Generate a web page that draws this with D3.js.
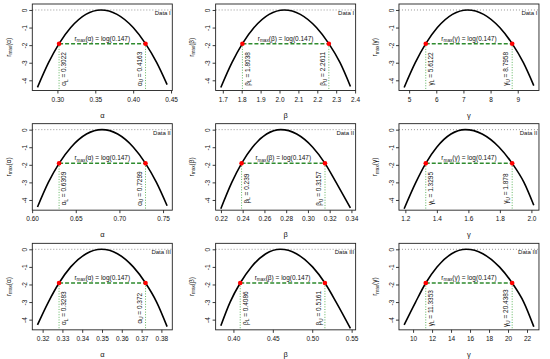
<!DOCTYPE html>
<html><head><meta charset="utf-8">
<script src="https://cdn.jsdelivr.net/npm/d3@7"></script>
<style>
body{margin:0;background:#fff}
svg{display:block}
text{font-family:"Liberation Sans",Arial,Helvetica,sans-serif;fill:#111}
</style>
</head><body>
<svg id="c" width="550" height="359"></svg>
<script>
// ---------- data ----------
const datasetNames = ["Data I", "Data II", "Data III"];
const paramSymbols = ["α", "β", "γ"];
const cutoffValue = -1.917;            // log(0.147)
const cutoffText = "log(0.147)";

const lowerValues = [0.3022, 1.8038, 5.6122, 0.6309, 0.239, 1.3295, 0.3283, 0.4086, 11.3353];
const lowerLabels = ["0.3022", "1.8038", "5.6122", "0.6309", "0.239", "1.3295", "0.3283", "0.4086", "11.3353"];
const upperValues = [0.4163, 2.2611, 8.7958, 0.7299, 0.3157, 1.878, 0.372, 0.5161, 20.4383];
const upperLabels = ["0.4163", "2.2611", "8.7958", "0.7299", "0.3157", "1.878", "0.372", "0.5161", "20.4383"];

const curveX = [
  [0.2737, 0.2883, 0.3022, 0.3176, 0.3375, 0.3575, 0.3787, 0.4000, 0.4163, 0.4311, 0.4448],
  [1.6895, 1.7483, 1.8038, 1.8653, 1.9451, 2.0250, 2.1102, 2.1955, 2.2611, 2.3204, 2.3754],
  [4.8163, 5.2262, 5.6122, 6.0397, 6.5949, 7.1500, 7.7441, 8.3383, 8.7958, 9.2089, 9.5917],
  [0.60615, 0.6186, 0.6309, 0.6446, 0.6623, 0.6800, 0.6980, 0.7160, 0.7299, 0.7424, 0.75465],
  [0.2199, 0.2300, 0.2390, 0.2490, 0.2620, 0.2750, 0.2897, 0.3044, 0.3157, 0.3259, 0.3391],
  [1.1924, 1.2666, 1.3295, 1.3991, 1.4896, 1.5800, 1.6876, 1.7952, 1.8780, 1.9528, 2.0151],
  [0.3174, 0.3229, 0.3283, 0.3342, 0.3420, 0.3497, 0.3578, 0.3658, 0.3720, 0.3776, 0.3829],
  [0.3840, 0.3958, 0.4086, 0.4228, 0.4411, 0.4595, 0.4799, 0.5004, 0.5161, 0.5303, 0.5485],
  [9.0596, 10.2649, 11.3353, 12.5209, 14.0604, 15.6000, 17.3466, 19.0933, 20.4383, 21.6527, 22.7140]
];
const curveY = [
  [-4.40, -3, -1.917, -1, -0.25, 0, -0.25, -1, -1.917, -3, -4.25],
  [-4.41, -3, -1.917, -1, -0.25, 0, -0.25, -1, -1.917, -3, -4.35],
  [-4.41, -3, -1.917, -1, -0.25, 0, -0.25, -1, -1.917, -3, -4.30],
  [-4.40, -3, -1.917, -1, -0.25, 0, -0.25, -1, -1.917, -3, -4.33],
  [-4.50, -3, -1.917, -1, -0.25, 0, -0.25, -1, -1.917, -3, -4.45],
  [-4.50, -3, -1.917, -1, -0.25, 0, -0.25, -1, -1.917, -3, -4.30],
  [-4.30, -3, -1.917, -1, -0.25, 0, -0.25, -1, -1.917, -3, -4.40],
  [-4.35, -3, -1.917, -1, -0.25, 0, -0.25, -1, -1.917, -3, -4.50],
  [-4.30, -3, -1.917, -1, -0.25, 0, -0.25, -1, -1.917, -3, -4.40]
];

const xTickLabels = [
  ["0.30", "0.35", "0.40", "0.45"],
  ["1.7", "1.8", "1.9", "2.0", "2.1", "2.2", "2.3", "2.4"],
  ["5", "6", "7", "8", "9"],
  ["0.60", "0.65", "0.70", "0.75"],
  ["0.22", "0.24", "0.26", "0.28", "0.30", "0.32", "0.34"],
  ["1.2", "1.4", "1.6", "1.8", "2.0"],
  ["0.32", "0.33", "0.34", "0.35", "0.36", "0.37", "0.38"],
  ["0.40", "0.45", "0.50", "0.55"],
  ["10", "12", "14", "16", "18", "20", "22"]
];
const yTickValues = [0, -1, -2, -3, -4];
const yTickLabels = ["0", "-1", "-2", "-3", "-4"];
const yDomain = [-4.58, 0.34];
const boundLabelY = -3.35;

// ---------- drawing ----------
const svg = d3.select("#c");
const PW = 550 / 3, PH = 359 / 3;
const box = {l: 32.3, r: 172.3, t: 4, b: 90.5};
const FS = 6.5;

function addMathText(sel, parts) {
  // parts: [text, isSub]
  let shifted = false;
  parts.forEach(([t, sub]) => {
    const ts = sel.append("tspan").text(t);
    if (sub && !shifted) { ts.attr("dy", 1.4).attr("font-size", FS * 0.72); shifted = true; }
    else if (!sub && shifted) { ts.attr("dy", -1.4); shifted = false; }
    else if (sub) ts.attr("font-size", FS * 0.72);
  });
}

for (let i = 0; i < 9; i++) {
  const row = Math.floor(i / 3), col = i % 3;
  const sym = paramSymbols[col];
  const g = svg.append("g").attr("transform", `translate(${col * PW},${row * PH})`);
  const xs = curveX[i], ys = curveY[i];
  const ext = d3.extent(xs), pad = (ext[1] - ext[0]) * 0.04;
  const x = d3.scaleLinear().domain([ext[0] - pad, ext[1] + pad]).range([box.l, box.r]);
  const y = d3.scaleLinear().domain(yDomain).range([box.b, box.t]);

  // dotted line at 0
  g.append("line").attr("x1", box.l).attr("x2", box.r).attr("y1", y(0)).attr("y2", y(0))
    .attr("stroke", "#8a8a8a").attr("stroke-width", 0.9).attr("stroke-dasharray", "1,2");

  // vertical dotted green lines
  [lowerValues[i], upperValues[i]].forEach(v => {
    g.append("line").attr("x1", x(v)).attr("x2", x(v)).attr("y1", y(cutoffValue)).attr("y2", box.b)
      .attr("stroke", "#4fae4f").attr("stroke-width", 0.9).attr("stroke-dasharray", "1,1.6");
  });

  // profile curve
  const pts = xs.map((v, k) => [v, ys[k]]);
  g.append("path")
    .attr("d", d3.line().x(d => x(d[0])).y(d => y(d[1])).curve(d3.curveMonotoneX)(pts))
    .attr("fill", "none").attr("stroke", "#000").attr("stroke-width", 1.6);

  // green dashed cutoff
  g.append("line").attr("x1", x(lowerValues[i])).attr("x2", x(upperValues[i]))
    .attr("y1", y(cutoffValue)).attr("y2", y(cutoffValue))
    .attr("stroke", "#2e8b2e").attr("stroke-width", 1.5).attr("stroke-dasharray", "4,2");

  // red points
  [lowerValues[i], upperValues[i]].forEach(v => {
    g.append("circle").attr("cx", x(v)).attr("cy", y(cutoffValue)).attr("r", 2.3).attr("fill", "#ff0000");
  });

  // box
  g.append("rect").attr("x", box.l).attr("y", box.t).attr("width", box.r - box.l).attr("height", box.b - box.t)
    .attr("fill", "none").attr("stroke", "#222").attr("stroke-width", 0.9);

  // x axis
  const xTicks = xTickLabels[i].map(Number);
  const xa = g.append("g").attr("transform", `translate(0,${box.b})`)
    .call(d3.axisBottom(x).tickValues(xTicks).tickFormat((d, k) => xTickLabels[i][k]).tickSize(3).tickPadding(3.5));
  xa.select(".domain").remove();
  xa.selectAll("line").attr("stroke", "#222").attr("stroke-width", 0.9);
  xa.selectAll("text").attr("font-size", FS).attr("font-family", null).attr("fill", "#111");
  xa.attr("font-family", null);

  // y axis
  const ya = g.append("g").attr("transform", `translate(${box.l},0)`)
    .call(d3.axisLeft(y).tickValues(yTickValues).tickFormat((d, k) => yTickLabels[k]).tickSize(3));
  ya.select(".domain").remove();
  ya.selectAll("line").attr("stroke", "#222").attr("stroke-width", 0.9);
  ya.selectAll("text").attr("font-size", FS).attr("fill", "#111")
    .attr("transform", "rotate(-90)").attr("text-anchor", "middle")
    .attr("x", 0).attr("y", -5.2).attr("dy", null);
  ya.attr("font-family", null);

  // axis titles
  g.append("text").attr("x", (box.l + box.r) / 2).attr("y", 117.5).attr("text-anchor", "middle")
    .attr("font-size", 7.5).text(sym);
  const yt = g.append("text").attr("transform", `translate(10.5,${(box.t + box.b) / 2}) rotate(-90)`)
    .attr("text-anchor", "middle").attr("font-size", FS);
  addMathText(yt, [["r", false], ["max", true], ["(" + sym + ")", false]]);

  // dataset label
  g.append("text").attr("x", box.r - 1.5).attr("y", box.t + 11).attr("text-anchor", "end")
    .attr("font-size", 6).text(datasetNames[row]);

  // cutoff label
  const ct = g.append("text").attr("x", x((lowerValues[i] + upperValues[i]) / 2)).attr("y", y(cutoffValue) - 3)
    .attr("text-anchor", "middle").attr("font-size", FS);
  addMathText(ct, [["r", false], ["max", true], ["(" + sym + ") = " + cutoffText, false]]);

  // bound labels (vertical)
  const lt = g.append("text").attr("transform", `translate(${x(lowerValues[i]) + 7.3},${y(boundLabelY)}) rotate(-90)`)
    .attr("text-anchor", "middle").attr("font-size", FS);
  addMathText(lt, [[sym, false], ["L", true], [" = " + lowerLabels[i], false]]);
  const ut = g.append("text").attr("transform", `translate(${x(upperValues[i]) - 3.7},${y(boundLabelY)}) rotate(-90)`)
    .attr("text-anchor", "middle").attr("font-size", FS);
  addMathText(ut, [[sym, false], ["U", true], [" = " + upperLabels[i], false]]);
}
</script>
</body></html>
